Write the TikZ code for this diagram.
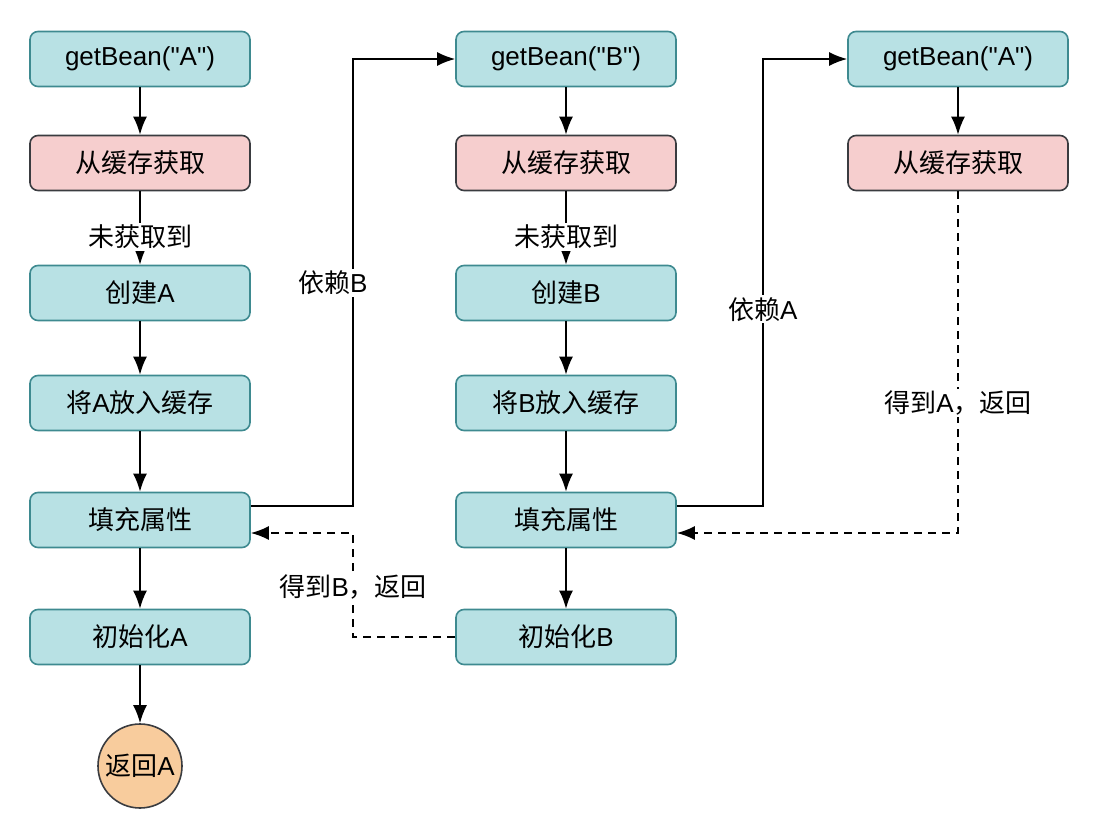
\documentclass[tikz,border=0pt]{standalone}
\usepackage{fontspec}
\setmainfont{Liberation Sans}
\newfontfamily\latinfont{Liberation Sans}
\newfontfamily\cjk{Noto Sans CJK SC}
\usetikzlibrary{arrows.meta}
\definecolor{tealfill}{HTML}{B8E1E4}
\definecolor{tealline}{HTML}{3E8A90}
\definecolor{pinkfill}{HTML}{F6CECE}
\definecolor{orangefill}{HTML}{F8CC9D}
\definecolor{darkline}{HTML}{3A3C40}

\begin{document}
\begin{tikzpicture}[x=1pt, y=-1pt,
		box/.style={draw=tealline, fill=tealfill, line width=1.6pt, rounded corners=8pt,
			minimum width=220pt, minimum height=55pt, font=\latinfont\fontsize{26pt}{30pt}\selectfont},
		cache/.style={box, draw=darkline, fill=pinkfill},
		endcircle/.style={circle, draw=darkline, fill=orangefill, line width=1.6pt,
			minimum size=84pt, inner sep=0pt, font=\latinfont\fontsize{26pt}{30pt}\selectfont},
		lbl/.style={fill=white, inner sep=2pt, font=\latinfont\fontsize{26pt}{30pt}\selectfont},
		flow/.style={-{Latex[length=18pt,width=14pt]}, line width=1.8pt},
		back/.style={flow, dash pattern=on 8pt off 6pt}]
		%%%%% START %%%%%
		
		\useasboundingbox (0, 0) rectangle (1106, 830);
		
		% column of A
		\node[box] (a1) at (140, 59) {getBean("A")};
		\node[cache] (a2) at (140, 163) {\cjk 从缓存获取};
		\node[box] (a3) at (140, 293) {{\cjk 创建}A};
		\node[box] (a4) at (140, 403) {{\cjk 将}A{\cjk 放入缓存}};
		\node[box] (a5) at (140, 520) {\cjk 填充属性};
		\node[box] (a6) at (140, 637) {{\cjk 初始化}A};
		\node[endcircle] (ret) at (140, 766) {{\cjk 返回}A};
		
		% column of B
		\node[box] (b1) at (566, 59) {getBean("B")};
		\node[cache] (b2) at (566, 163) {\cjk 从缓存获取};
		\node[box] (b3) at (566, 293) {{\cjk 创建}B};
		\node[box] (b4) at (566, 403) {{\cjk 将}B{\cjk 放入缓存}};
		\node[box] (b5) at (566, 520) {\cjk 填充属性};
		\node[box] (b6) at (566, 637) {{\cjk 初始化}B};
		
		% second call for A
		\node[box] (c1) at (958, 59) {getBean("A")};
		\node[cache] (c2) at (958, 163) {\cjk 从缓存获取};
		
		% straight flow
		\draw[flow] (a1) -- (a2);
		\draw[flow] (a2) -- node[lbl, pos=0.62] {\cjk 未获取到} (a3);
		\draw[flow] (a3) -- (a4);
		\draw[flow] (a4) -- (a5);
		\draw[flow] (a5) -- (a6);
		\draw[flow] (a6) -- (ret);
		
		\draw[flow] (b1) -- (b2);
		\draw[flow] (b2) -- node[lbl, pos=0.62] {\cjk 未获取到} (b3);
		\draw[flow] (b3) -- (b4);
		\draw[flow] (b4) -- (b5);
		\draw[flow] (b5) -- (b6);
		
		\draw[flow] (c1) -- (c2);
		
		% dependencies
		\draw[flow] ([yshift=14pt]a5.east) -- ++(102, 0) |- node[lbl, pos=0.25, xshift=-20pt] {{\cjk 依赖}B} (b1.west);
		\draw[flow] ([yshift=14pt]b5.east) -- ++(86, 0) |- node[lbl, pos=0.22] {{\cjk 依赖}A} (c1.west);
		
		% returns
		\draw[back] (c2.south) |- node[lbl, pos=0.31] {{\cjk 得到}A{\cjk ，返回}} ([yshift=-13pt]b5.east);
		\draw[back] (b6.west) -- ++(-102, 0) |- node[lbl, pos=0.24] {{\cjk 得到}B{\cjk ，返回}} ([yshift=-13pt]a5.east);
		
		%%%%% END %%%%%
\end{tikzpicture}
\end{document}
